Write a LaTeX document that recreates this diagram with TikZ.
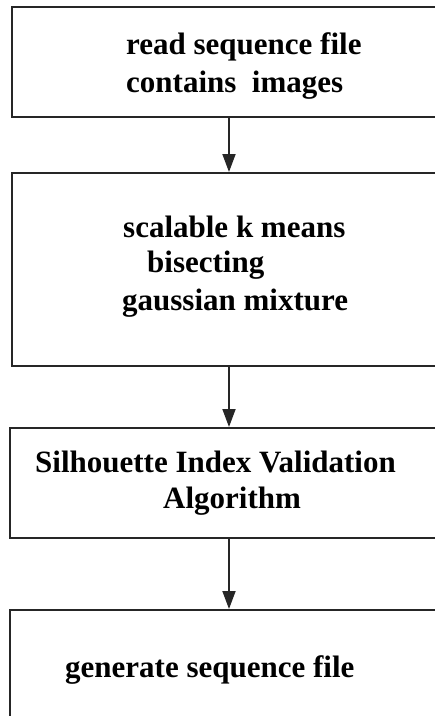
\documentclass[tikz,border=0pt]{standalone}
\usepackage{fontspec}
\setmainfont{Liberation Serif}
\usetikzlibrary{arrows.meta}
\definecolor{linegray}{HTML}{262626}
\tikzset{
  box/.style={draw=linegray, line width=2pt, rectangle, inner sep=0pt, fill=white},
  lbl/.style={anchor=base west, inner sep=0pt, text=black,
              font=\bfseries\fontsize{31}{37}\selectfont},
  flow/.style={draw=linegray, line width=1.8pt,
               -{Triangle[width=13pt,length=18pt]}}
}
\begin{document}
\begin{tikzpicture}[x=1pt, y=-1pt]
  \useasboundingbox (0,0) rectangle (435,716);
  \clip (0,0) rectangle (435,716);

  % process boxes (right edges run past the frame)
  \node[box, minimum width=434pt, minimum height=110pt] (read)    at (229,62)    {};
  \node[box, minimum width=434pt, minimum height=193pt] (cluster) at (229,269.5) {};
  \node[box, minimum width=439pt, minimum height=110pt] (valid)   at (229,483)   {};
  \node[box, minimum width=439pt, minimum height=130pt] (gen)     at (229,675)   {};

  % connectors
  \draw[flow] (read) -- (cluster);
  \draw[flow] (cluster) -- (valid);
  \draw[flow] (valid) -- (gen);

  % box texts
  \node[lbl] (t1a) at (126,54)  {read sequence file};
  \node[lbl] (t1b) at (126,92)  {contains~~images};
  \node[lbl] (t2a) at (123,237) {scalable k means};
  \node[lbl] (t2b) at (147,272) {bisecting};
  \node[lbl] (t2c) at (122,310) {gaussian mixture};
  \node[lbl] (t3a) at (35,472)  {Silhouette Index Validation};
  \node[lbl] (t3b) at (163,508) {Algorithm};
  \node[lbl] (t4)  at (65,677)  {generate sequence file};
\end{tikzpicture}
\end{document}
